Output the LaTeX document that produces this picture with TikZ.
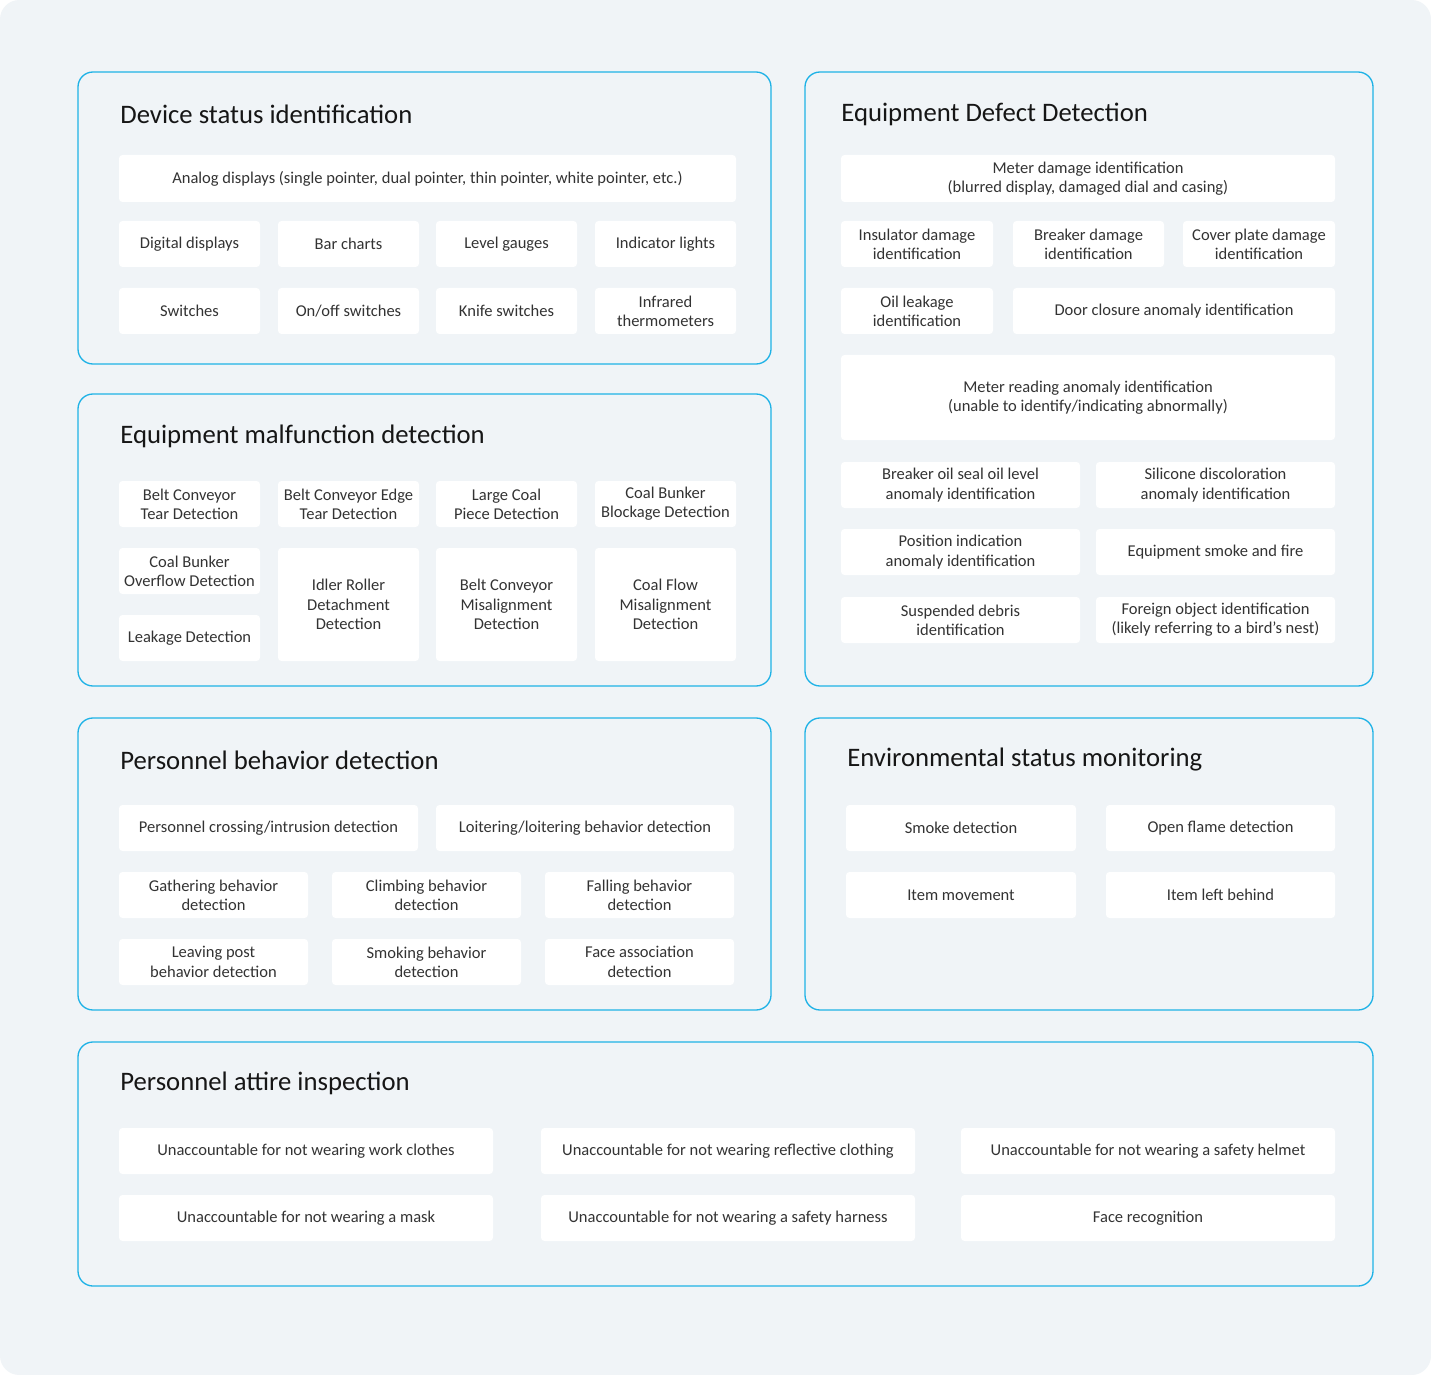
\documentclass[tikz,border=0pt]{standalone}
\usepackage{fontspec}
\setmainfont{Carlito}
\usepackage{tikz}
\usepackage{xcolor}
\usetikzlibrary{%
	calc,%
	backgrounds
}
\definecolor{canvas}{HTML}{F0F4F7}
\definecolor{frameblue}{HTML}{1EB2E6}
\definecolor{itemtext}{HTML}{333333}
\definecolor{titletext}{HTML}{161616}
\tikzset{
	panel/.style={draw=frameblue,line width=0.75pt,rounded corners=8.5pt},
	item/.style={fill=white,rounded corners=2pt,inner sep=0pt,align=center,
		text=itemtext,font=\fontsize{9.4}{11}\selectfont},
	title/.style={anchor=west,inner sep=0pt,text=titletext,
		font=\fontsize{15.2}{17}\selectfont}
}
% box from (x1,y1) to (x2,y2), in pixels of the layout
\newcommand{\itembox}[6]{%
	\node[item,minimum width={(#4-#2)*0.02cm},minimum height={(#5-#3)*0.02cm}]
	(#1) at ({(#2+#4)/2},{(#3+#5)/2+1}) {#6};}

\begin{document}
\begin{tikzpicture}[x=0.02cm,y=-0.02cm]
	\fill[white] (0,0) rectangle (1431,1375);
	\fill[canvas,rounded corners=11pt] (0,0) rectangle (1431,1375);
	
	% device status
	\draw[panel] (78,72) rectangle (771,364);
	\node[title] (t-dev) at (120,114) {Device status identification};
	\itembox{analog}{119}{154}{736}{201}{Analog displays (single pointer, dual pointer, thin pointer, white pointer, etc.)}
	\foreach \X/\T [count=\i] in {119/Digital displays,278/Bar charts,436/Level gauges,595/Indicator lights}
	{\itembox{dev-a\i}{\X}{220}{\X+141}{266}{\T}}
	\foreach \X/\T [count=\i] in {119/Switches,278/{On/off switches},436/Knife switches,595/{Infrared\\thermometers}}
	{\itembox{dev-b\i}{\X}{287}{\X+141}{333}{\T}}
	
	% malfunction
	\draw[panel] (78,394) rectangle (771,686);
	\node[title] (t-mal) at (120,436) {Equipment malfunction detection};
	\foreach \X/\T [count=\i] in {119/{Belt Conveyor\\Tear Detection},278/{Belt Conveyor Edge\\Tear Detection},436/{Large Coal\\Piece Detection},595/{Coal Bunker\\Blockage Detection}}
	{\itembox{mal-a\i}{\X}{480}{\X+141}{526}{\T}}
	\itembox{mal-b1}{119}{547}{260}{593}{Coal Bunker\\Overflow Detection}
	\itembox{mal-c1}{119}{614}{260}{660}{Leakage Detection}
	\foreach \X/\T [count=\i from 2] in {278/{Idler Roller\\Detachment\\Detection},436/{Belt Conveyor\\Misalignment\\Detection},595/{Coal Flow\\Misalignment\\Detection}}
	{\itembox{mal-b\i}{\X}{547}{\X+141}{660}{\T}}
	
	% defects
	\draw[panel] (805,72) rectangle (1373,686);
	\node[title] (t-def) at (841,114) {Equipment Defect Detection};
	\itembox{def-meter}{841}{154}{1335}{201}{Meter damage identification\\(blurred display, damaged dial and casing)}
	\itembox{def-ins}{841}{220}{993}{266}{Insulator damage\\identification}
	\itembox{def-brk}{1013}{220}{1164}{266}{Breaker damage\\identification}
	\itembox{def-cov}{1183}{220}{1335}{266}{Cover plate damage\\identification}
	\itembox{def-oil}{841}{287}{993}{333}{Oil leakage\\identification}
	\itembox{def-door}{1013}{287}{1335}{333}{Door closure anomaly identification}
	\itembox{def-read}{841}{354}{1335}{439}{Meter reading anomaly identification\\(unable to identify/indicating abnormally)}
	\foreach \Y/\L/\R [count=\i] in {461/{Breaker oil seal oil level\\anomaly identification}/{Silicone discoloration\\anomaly identification},
		528/{Position indication\\anomaly identification}/Equipment smoke and fire,
		596/{Suspended debris\\identification}/{Foreign object identification\\(likely referring to a bird's nest)}}
	{\itembox{def-l\i}{841}{\Y}{1080}{\Y+46}{\L}
		\itembox{def-r\i}{1096}{\Y}{1335}{\Y+46}{\R}}
	
	% personnel behavior
	\draw[panel] (78,718) rectangle (771,1010);
	\node[title] (t-beh) at (120,760) {Personnel behavior detection};
	\itembox{beh-a1}{119}{804}{418}{850}{Personnel crossing/intrusion detection}
	\itembox{beh-a2}{436}{804}{734}{850}{Loitering/loitering behavior detection}
	\foreach \X/\T [count=\i] in {119/{Gathering behavior\\detection},332/{Climbing behavior\\detection},545/{Falling behavior\\detection}}
	{\itembox{beh-b\i}{\X}{871}{\X+189}{917}{\T}}
	\foreach \X/\T [count=\i] in {119/{Leaving post\\behavior detection},332/{Smoking behavior\\detection},545/{Face association\\detection}}
	{\itembox{beh-c\i}{\X}{938}{\X+189}{984}{\T}}
	
	% environment
	\draw[panel] (805,718) rectangle (1373,1010);
	\node[title] (t-env) at (847,760) {Environmental status monitoring};
	\itembox{env-a1}{846}{804}{1076}{850}{Smoke detection}
	\itembox{env-a2}{1106}{804}{1335}{850}{Open flame detection}
	\itembox{env-b1}{846}{871}{1076}{917}{Item movement}
	\itembox{env-b2}{1106}{871}{1335}{917}{Item left behind}
	
	% attire
	\draw[panel] (78,1042) rectangle (1373,1286);
	\node[title] (t-att) at (120,1083) {Personnel attire inspection};
	\foreach \X/\T [count=\i] in {119/Unaccountable for not wearing work clothes,541/Unaccountable for not wearing reflective clothing,961/Unaccountable for not wearing a safety helmet}
	{\itembox{att-a\i}{\X}{1127}{\X+374}{1173}{\T}}
	\foreach \X/\T [count=\i] in {119/Unaccountable for not wearing a mask,541/Unaccountable for not wearing a safety harness,961/Face recognition}
	{\itembox{att-b\i}{\X}{1194}{\X+374}{1240}{\T}}
\end{tikzpicture}
\end{document}
